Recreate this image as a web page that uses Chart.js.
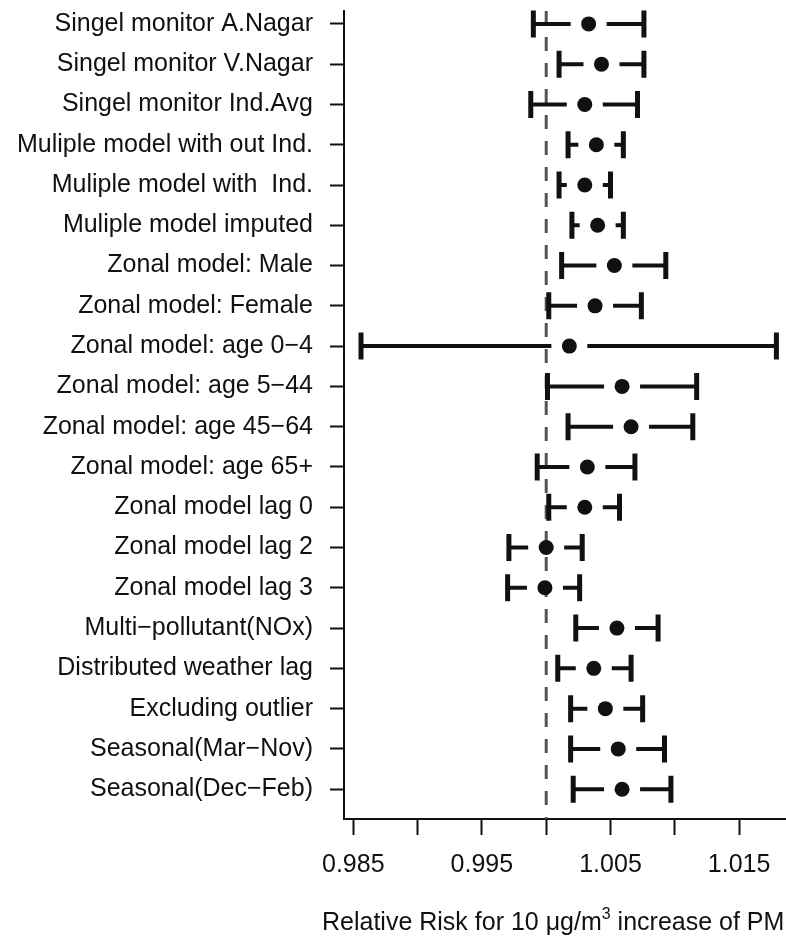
<!DOCTYPE html>
<html>
<head>
<meta charset="utf-8">
<script src="https://cdn.jsdelivr.net/npm/chart.js@4.4.1/dist/chart.umd.min.js"></script>
<style>
  html, body { margin: 0; padding: 0; background: #fff; overflow: hidden; }
  #wrap { position: relative; width: 786px; height: 936px; }
</style>
</head>
<body>
<div id="wrap"><canvas id="chart"></canvas></div>
<script>
// Model labels, top to bottom
const models = [
  'Singel monitor A.Nagar',
  'Singel monitor V.Nagar',
  'Singel monitor Ind.Avg',
  'Muliple model with out Ind.',
  'Muliple model with  Ind.',
  'Muliple model imputed',
  'Zonal model: Male',
  'Zonal model: Female',
  'Zonal model: age 0\u22124',
  'Zonal model: age 5\u221244',
  'Zonal model: age 45\u221264',
  'Zonal model: age 65+',
  'Zonal model lag 0',
  'Zonal model lag 2',
  'Zonal model lag 3',
  'Multi\u2212pollutant(NOx)',
  'Distributed weather lag',
  'Excluding outlier',
  'Seasonal(Mar\u2212Nov)',
  'Seasonal(Dec\u2212Feb)'
];

// Relative risk estimates and 95% CI bounds
const estimate = [1.0033, 1.0043, 1.0030, 1.0039, 1.0030, 1.0040, 1.0053, 1.0038, 1.0018, 1.0059,
                  1.0066, 1.0032, 1.0030, 1.0000, 0.9999, 1.0055, 1.0037, 1.0046, 1.0056, 1.0059];
const lower    = [0.9990, 1.0010, 0.9988, 1.0017, 1.0010, 1.0020, 1.0012, 1.0002, 0.9856, 1.0001,
                  1.0017, 0.9993, 1.0002, 0.9971, 0.9970, 1.0023, 1.0009, 1.0019, 1.0019, 1.0021];
const upper    = [1.0076, 1.0076, 1.0071, 1.0060, 1.0050, 1.0060, 1.0093, 1.0074, 1.0179, 1.0117,
                  1.0114, 1.0069, 1.0057, 1.0028, 1.0026, 1.0087, 1.0066, 1.0075, 1.0092, 1.0097];

const xTicks = [0.985, 0.990, 0.995, 1.000, 1.005, 1.010, 1.015];
const xLabeled = [0.985, 0.995, 1.005, 1.015];
const refValue = 1.0;

const ink = '#111';
const font = 'Liberation Sans, Arial, sans-serif';

// error bars with a small gap around the point estimate
const errorBars = {
  id: 'errorBars',
  afterDatasetsDraw(chart) {
    const { ctx, scales: { x, y } } = chart;
    ctx.save();
    ctx.strokeStyle = ink;
    ctx.lineCap = 'butt';
    estimate.forEach((est, i) => {
      const py = y.getPixelForValue(i + 1);
      const pl = x.getPixelForValue(lower[i]);
      const pu = x.getPixelForValue(upper[i]);
      const pe = x.getPixelForValue(est);
      const gap = 18;
      ctx.lineWidth = 4;
      ctx.beginPath();
      if (pe - gap > pl) { ctx.moveTo(pl, py); ctx.lineTo(pe - gap, py); }
      if (pe + gap < pu) { ctx.moveTo(pe + gap, py); ctx.lineTo(pu, py); }
      ctx.stroke();
      ctx.lineWidth = 5;
      ctx.beginPath();
      ctx.moveTo(pl, py - 13.5); ctx.lineTo(pl, py + 13.5);
      ctx.moveTo(pu, py - 13.5); ctx.lineTo(pu, py + 13.5);
      ctx.stroke();
    });
    ctx.restore();
  }
};

// dashed line at RR = 1 and the axis title
const decorations = {
  id: 'decorations',
  beforeDatasetsDraw(chart) {
    const { ctx, chartArea, scales: { x } } = chart;
    const px = x.getPixelForValue(refValue);
    ctx.save();
    ctx.strokeStyle = '#555';
    ctx.lineWidth = 3;
    ctx.setLineDash([14, 12]);
    ctx.beginPath();
    ctx.moveTo(px, chartArea.top);
    ctx.lineTo(px, chartArea.bottom);
    ctx.stroke();
    ctx.restore();
  },
  afterDraw(chart) {
    const { ctx } = chart;
    ctx.save();
    ctx.fillStyle = ink;
    ctx.textBaseline = 'alphabetic';
    ctx.textAlign = 'left';
    let cx = 322;
    const by = 930;
    const part = (txt, size, dy) => {
      ctx.font = size + 'px ' + font;
      ctx.fillText(txt, cx, by + dy);
      cx += ctx.measureText(txt).width;
    };
    part('Relative Risk for 10 ', 25, 0);
    part('\u03bcg/m', 25, 0);
    part('3', 16, -11);
    part(' increase of PM', 25, 0);
    ctx.restore();
  }
};

new Chart(document.getElementById('chart'), {
  type: 'scatter',
  data: {
    datasets: [{
      data: estimate.map((v, i) => ({ x: v, y: i + 1 })),
      backgroundColor: ink,
      borderColor: ink,
      pointRadius: 7.5,
      pointHoverRadius: 7.5,
      borderWidth: 0
    }]
  },
  options: {
    responsive: true,
    maintainAspectRatio: false,
    animation: false,
    events: [],
    layout: { autoPadding: false, padding: { top: 11, right: 0, bottom: 0, left: 0 } },
    plugins: { legend: { display: false }, tooltip: { enabled: false } },
    scales: {
      x: {
        type: 'linear',
        min: 0.984277,
        max: 1.018647,
        afterBuildTicks: s => { s.ticks = xTicks.map(v => ({ value: v })); },
        afterFit: s => { s.height = 117; s.paddingLeft = 0; s.paddingRight = 0; },
        border: { display: true, color: ink, width: 2 },
        grid: { drawOnChartArea: false, drawTicks: true, tickLength: 16, color: ink, tickWidth: 2 },
        ticks: {
          color: ink,
          padding: 15,
          maxRotation: 0,
          autoSkip: false,
          font: { family: font, size: 25 },
          callback: v => xLabeled.some(t => Math.abs(t - v) < 1e-6) ? v.toFixed(3) : ''
        }
      },
      y: {
        type: 'linear',
        reverse: true,
        min: 0.68,
        max: 20.74,
        afterBuildTicks: s => { s.ticks = models.map((m, i) => ({ value: i + 1 })); },
        afterFit: s => { s.width = 344; s.paddingTop = 0; s.paddingBottom = 0; },
        border: { display: true, color: ink, width: 2 },
        grid: { drawOnChartArea: false, drawTicks: true, tickLength: 14, color: ink, tickWidth: 2 },
        ticks: {
          color: ink,
          padding: 17,
          autoSkip: false,
          font: { family: font, size: 25 },
          callback: v => models[Math.round(v) - 1]
        }
      }
    }
  },
  plugins: [decorations, errorBars]
});
</script>
</body>
</html>
